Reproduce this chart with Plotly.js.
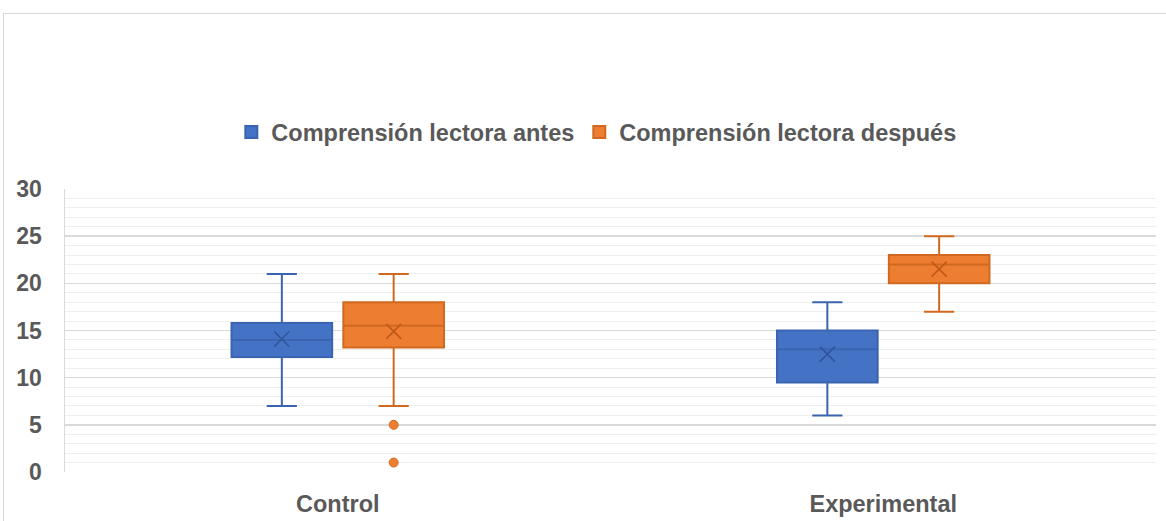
<!DOCTYPE html>
<html>
<head>
<meta charset="utf-8">
<script src="https://cdn.plot.ly/plotly-3.0.1.min.js"></script>
<style>
html,body{margin:0;padding:0;background:#fff;overflow:hidden;}
#frame{position:absolute;left:3px;top:13px;width:1300px;height:700px;border:1px solid #d9d9d9;box-sizing:border-box;}
#chart{position:absolute;left:0;top:0;width:1166px;height:521px;}
</style>
</head>
<body>
<div id="frame"></div>
<div id="chart"></div>
<script>
// Data
var groups = ["Control", "Experimental"];
var seriesNames = ["Comprensión lectora antes", "Comprensión lectora después"];
var antesMin = [7, 6];
var antesQ1 = [12.2, 9.5];
var antesMedian = [14, 13];
var antesQ3 = [15.8, 15];
var antesMax = [21, 18];
var antesMean = [14.1, 12.5];
var despuesMin = [7, 17];
var despuesQ1 = [13.2, 20];
var despuesMedian = [15.5, 22];
var despuesQ3 = [18, 23];
var despuesMax = [21, 25];
var despuesMean = [14.9, 21.5];
var outlierGroup = ["Control", "Control"];
var outlierValues = [5, 1];
var yTicks = [0, 5, 10, 15, 20, 25, 30];

var blueFill = "#4472C4", blueLine = "#3A64AF";
var orangeFill = "#ED7D31", orangeLine = "#D0691F";

var traces = [
  {
    type: "box", name: seriesNames[0], x: groups,
    q1: antesQ1, median: antesMedian, q3: antesQ3,
    lowerfence: antesMin, upperfence: antesMax,
    fillcolor: blueFill, line: {color: blueLine, width: 2},
    whiskerwidth: 0.3, boxpoints: false,
    offsetgroup: "a", alignmentgroup: "g", hoverinfo: "skip"
  },
  {
    type: "box", name: seriesNames[1], x: groups,
    q1: despuesQ1, median: despuesMedian, q3: despuesQ3,
    lowerfence: despuesMin, upperfence: despuesMax,
    fillcolor: orangeFill, line: {color: orangeLine, width: 2},
    whiskerwidth: 0.3, boxpoints: false,
    offsetgroup: "b", alignmentgroup: "g", hoverinfo: "skip"
  },
  {
    type: "scatter", mode: "markers", x: groups, y: antesMean,
    marker: {symbol: "x-thin-open", size: 15, color: "#2F5597", line: {color: "#2F5597", width: 1.6}},
    offsetgroup: "a", alignmentgroup: "g", showlegend: false, hoverinfo: "skip"
  },
  {
    type: "scatter", mode: "markers", x: groups, y: despuesMean,
    marker: {symbol: "x-thin-open", size: 15, color: "#C0581A", line: {color: "#C0581A", width: 1.6}},
    offsetgroup: "b", alignmentgroup: "g", showlegend: false, hoverinfo: "skip"
  },
  {
    type: "scatter", mode: "markers", x: outlierGroup, y: outlierValues,
    marker: {symbol: "circle", size: 9, color: orangeFill, line: {color: "#D0691F", width: 1}},
    offsetgroup: "b", alignmentgroup: "g", showlegend: false, hoverinfo: "skip"
  }
];

var layout = {
  width: 1166, height: 521,
  margin: {l: 65, r: 10, t: 189, b: 49, pad: 0},
  paper_bgcolor: "rgba(0,0,0,0)", plot_bgcolor: "rgba(0,0,0,0)",
  font: {family: "Liberation Sans, Arial, sans-serif", color: "#595959"},
  boxmode: "group", boxgap: 0.59, boxgroupgap: 0.1,
  scattermode: "group", scattergap: 0.59,
  showlegend: true,
  legend: {
    orientation: "h", x: 0.487, xanchor: "center", y: 1.201, yanchor: "middle",
    font: {size: 23.5, color: "#595959", family: "Liberation Sans, Arial, sans-serif", weight: "bold"},
    itemwidth: 30, traceorder: "normal"
  },
  xaxis: {
    type: "category", categoryorder: "array", categoryarray: groups,
    showgrid: false, zeroline: false, showline: false, ticks: "",
    ticklabelstandoff: 15,
    tickfont: {size: 23.5, color: "#595959", weight: "bold"},
    fixedrange: true
  },
  yaxis: {
    range: [0, 30], tickvals: yTicks, ticktext: yTicks.map(String),
    showgrid: true, gridcolor: "#d9d9d9", gridwidth: 1.5,
    zeroline: false, showline: true, linecolor: "#d9d9d9", linewidth: 1.5,
    minor: {dtick: 1, showgrid: true, gridcolor: "#efefef", gridwidth: 1, ticks: ""},
    ticks: "", ticklabelstandoff: 17,
    tickfont: {size: 23, color: "#595959", weight: "bold"},
    fixedrange: true
  }
};

Plotly.newPlot("chart", traces, layout, {staticPlot: true, displayModeBar: false});
</script>
</body>
</html>
